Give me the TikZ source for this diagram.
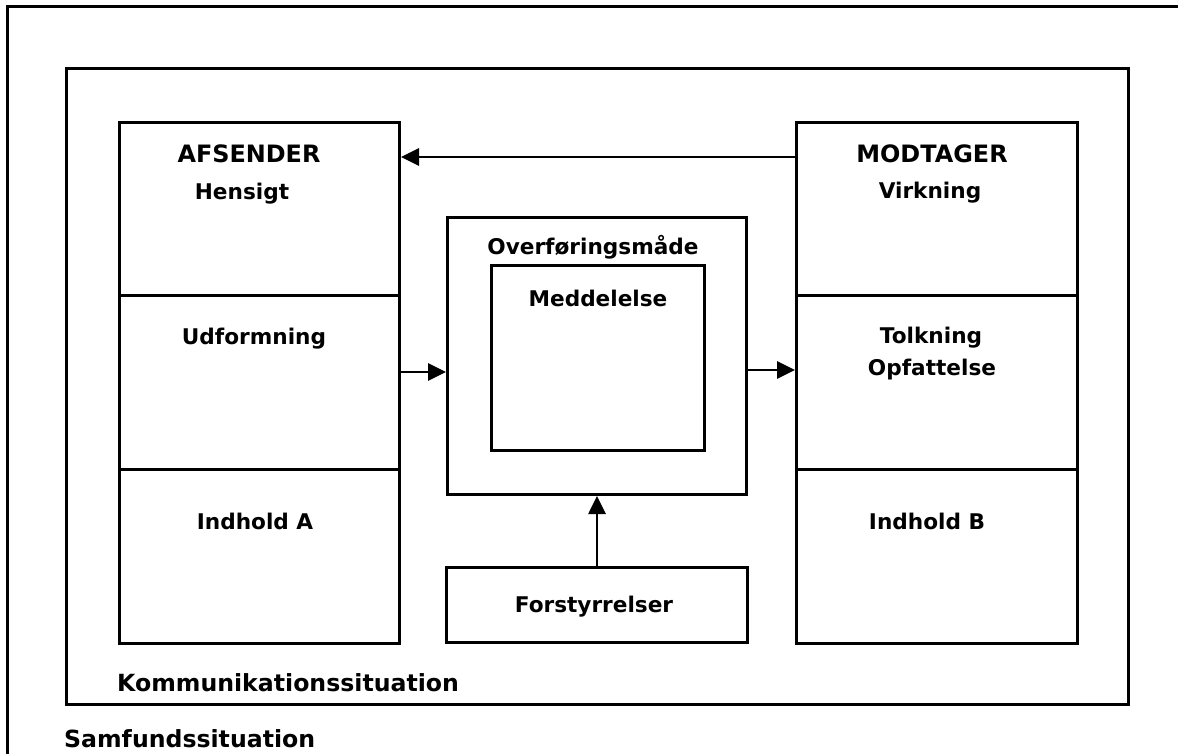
\documentclass[tikz,border=0pt]{standalone}
\usepackage{fontspec}
\setmainfont{DejaVu Sans}
\usetikzlibrary{arrows.meta}
\begin{document}
\begin{tikzpicture}[x=1bp,y=-1bp,
  frame/.style={draw=black,line width=3bp},
  lbl/.style={anchor=base,font=\bfseries\fontsize{21.7}{26}\selectfont,inner sep=0pt},
  head/.style={anchor=base,font=\bfseries\fontsize{24}{28}\selectfont,inner sep=0pt},
  big/.style={anchor=base west,font=\bfseries\fontsize{23.7}{28}\selectfont,inner sep=0pt},
  arr/.style={draw=black,line width=2.7bp,-{Triangle[length=18bp,width=17bp]}}]
\useasboundingbox (0,0) rectangle (1178,754);
% outer frame (only top and left edges visible)
\coordinate (oa) at (7,754);
\coordinate (ob) at (7,7);
\coordinate (oc) at (1178,7);
\draw[frame] (oa) -- (ob) -- (oc);
% Kommunikationssituation frame
\node[frame,inner sep=0pt,minimum width=1062bp,minimum height=636bp,anchor=north west] (komm) at (65,67) {};
% left column
\node[frame,inner sep=0pt,minimum width=280bp,minimum height=173bp,anchor=north west] (a1) at (118,121) {};
\node[frame,inner sep=0pt,minimum width=280bp,minimum height=174bp,anchor=north west] (a2) at (118,294) {};
\node[frame,inner sep=0pt,minimum width=280bp,minimum height=174bp,anchor=north west] (a3) at (118,468) {};
% right column
\node[frame,inner sep=0pt,minimum width=281bp,minimum height=173bp,anchor=north west] (m1) at (795,121) {};
\node[frame,inner sep=0pt,minimum width=281bp,minimum height=174bp,anchor=north west] (m2) at (795,294) {};
\node[frame,inner sep=0pt,minimum width=281bp,minimum height=174bp,anchor=north west] (m3) at (795,468) {};
% middle
\node[frame,inner sep=0pt,minimum width=299bp,minimum height=277bp,anchor=north west] (ov) at (446,216) {};
\node[frame,inner sep=0pt,minimum width=213bp,minimum height=185bp,anchor=north west] (me) at (490,264) {};
\node[frame,inner sep=0pt,minimum width=301bp,minimum height=75bp,anchor=north west] (fo) at (445,566) {};
% texts
\node[head] (tafs) at (249,162) {AFSENDER};
\node[lbl] (then) at (242,199) {Hensigt};
\node[lbl] (tudf) at (254,344) {Udformning};
\node[lbl] (tina) at (255,529) {Indhold A};
\node[head] (tmod) at (932,162) {MODTAGER};
\node[lbl] (tvir) at (930,198) {Virkning};
\node[lbl] (ttol) at (931,343) {Tolkning};
\node[lbl] (topf) at (932,375) {Opfattelse};
\node[lbl] (tinb) at (927,529) {Indhold B};
\node[lbl] (tove) at (593,254) {Overføringsmåde};
\node[lbl] (tmed) at (598,306) {Meddelelse};
\node[lbl] (tfor) at (594,612) {Forstyrrelser};
\node[big] (tkom) at (117,691) {Kommunikationssituation};
\node[big] (tsam) at (64,747) {Samfundssituation};
% arrows
\draw[arr] (m1.west |- 0,157) -- (a1.east |- 0,157);
\draw[arr] (a2.east |- 0,372) -- (ov.west |- 0,372);
\draw[arr] (ov.east |- 0,370) -- (m2.west |- 0,370);
\draw[arr] (fo.north) -- (ov.south -| fo.north);
\end{tikzpicture}
\end{document}
